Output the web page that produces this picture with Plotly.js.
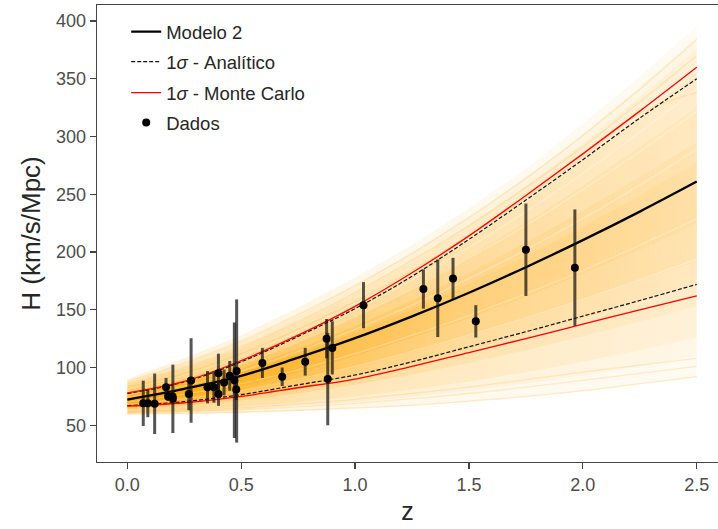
<!DOCTYPE html>
<html>
<head>
<meta charset="utf-8">
<script src="https://cdn.plot.ly/plotly-3.0.1.min.js"></script>
<style>html,body{margin:0;padding:0;background:#fff;}#chart{width:718px;height:529px;}</style>
</head>
<body>
<div id="chart"></div>
<script>
// ---- Observational data (cosmic chronometers) ----
const zData = [0.07, 0.09, 0.12, 0.17, 0.179, 0.199, 0.2, 0.27, 0.28, 0.352, 0.3802, 0.4, 0.4004, 0.4247, 0.4497, 0.47, 0.4783, 0.48, 0.593, 0.68, 0.781, 0.875, 0.88, 0.9, 1.037, 1.3, 1.363, 1.43, 1.53, 1.75, 1.965];
const hData = [69, 69, 68.6, 83, 75, 75, 72.9, 77, 88.8, 83, 83, 95, 77, 87.1, 92.8, 89, 80.9, 97, 104, 92, 105, 125, 90, 117, 154, 168, 160, 177, 140, 202, 186.5];
const hErr  = [19.6, 12, 26.2, 8, 4, 5, 29.6, 14, 36.6, 14, 13.5, 17, 10.2, 11.2, 12.9, 50, 9, 62, 13, 8, 12, 17, 40, 23, 20, 17, 33.6, 18, 14, 40, 50.4];

// ---- Model curves (read at a z grid) ----
const zGrid   = [0, 0.25, 0.5, 0.75, 1.0, 1.25, 1.5, 1.75, 2.0, 2.25, 2.5];
const hModel  = [72.3, 81.6, 92.8, 108.5, 125.4, 144.3, 164.8, 186.9, 210.3, 235, 261];
const hAnaUp  = [77.5, 87.5, 105, 127, 151, 179, 211, 245, 280, 316, 350];
const hAnaLo  = [67, 70.5, 76.5, 85, 93.5, 105, 118, 131, 144.5, 158, 172];
const hMcUp   = [78, 88, 106, 128, 153, 182, 214, 249, 285, 322, 360];
const hMcLo   = [66.5, 69.5, 75, 82.5, 90, 101, 113, 125, 137.5, 150, 162];

// ---- Monte Carlo sample envelope (nested density levels, outer to inner) ----
const lvl1Hi = [90, 108, 128, 152, 178, 206, 238, 272, 311, 352, 396];
const lvl1Lo = [59, 59.5, 60.5, 62, 64, 66.5, 70, 74, 79, 85, 92];
const lvl2Hi = [87.5, 103, 122, 145, 171, 199, 230, 264, 302, 343, 386];
const lvl2Lo = [60.5, 61.5, 63.5, 66.5, 70, 74.5, 80, 86, 93, 101, 110];
const lvl3Hi = [85, 99, 117, 139, 164, 192, 223, 257, 294, 334, 376];
const lvl3Lo = [61.5, 63, 66, 70, 75, 81, 88, 96, 105, 115, 126];
const lvl4Hi = [80.5, 92, 108, 129, 153, 180, 210, 243, 279, 317, 356];
const lvl4Lo = [64, 67, 71.5, 77.5, 85, 94, 104, 115, 127, 140, 153];
const lvl5Hi = [79, 89, 103.5, 122.5, 144.5, 169, 196, 225.5, 257.5, 291, 325];
const lvl5Lo = [65, 69, 75, 83, 92.5, 103.5, 115.5, 128.5, 142.5, 157.5, 172.5];
const lvl6Hi = [77, 86, 99, 116, 136, 158, 182, 208, 236, 265, 295];
const lvl6Lo = [66.5, 71, 79, 89, 100, 113, 127, 142, 158, 175, 192];
const lvl7Hi = [75, 83.5, 95.5, 111.5, 130, 150.5, 172.5, 196.5, 222, 249, 278];
const lvl7Lo = [69, 75, 84, 96, 110, 125.5, 142.5, 161, 181, 202, 224];

// ---- Some individual Monte Carlo sample curves ----
const mcSamples = [
  [60, 60.5, 61.5, 63, 65, 67.5, 71, 75, 80, 86, 92],
  [61, 62, 63.5, 66, 69, 73, 77.5, 83, 89, 95, 101],
  [61.5, 63, 65, 68.5, 72.5, 77.5, 83, 89.5, 96, 102, 108],
  [88, 104, 123, 146, 171, 199, 230, 264, 301, 341, 384],
  [86, 100, 118, 140, 165, 193, 223, 256, 291, 330, 370],
  [83, 95, 112, 133, 157, 184, 214, 247, 282, 320, 338]
];
const mcStreaks = [
  [74, 84, 97, 114, 133, 154, 177, 202, 229, 258, 289],
  [70, 77, 86, 98, 112, 128, 145, 164, 184, 206, 229],
  [76, 88, 103, 122, 144, 168, 195, 223, 254, 287, 322],
  [68, 73, 80, 90, 101, 114, 128, 143, 159, 176, 194],
  [79, 91, 107, 127, 150, 176, 204, 235, 268, 304, 341]
];

const ORANGE = '255,165,0';
const gradPos = [0, 0.1, 0.2, 0.4, 0.6, 1];
function grad(alphas) {
  return {type: 'horizontal', start: 0, stop: 2.5,
          colorscale: gradPos.map((p, i) => [p, 'rgba(' + ORANGE + ',' + alphas[i] + ')'])};
}
function band(hi, lo, alphas) {
  return {
    x: zGrid.concat(zGrid.slice().reverse()),
    y: hi.concat(lo.slice().reverse()),
    type: 'scatter', mode: 'lines', fill: 'toself',
    line: {width: 0}, fillcolor: 'rgba(' + ORANGE + ',' + alphas[3] + ')',
    fillgradient: grad(alphas),
    hoverinfo: 'skip', showlegend: false
  };
}

const traces = [];
traces.push(band(lvl1Hi, lvl1Lo, [0.14, 0.13, 0.11, 0.09, 0.07, 0.05]));
traces.push(band(lvl2Hi, lvl2Lo, [0.16, 0.15, 0.13, 0.10, 0.08, 0.05]));
traces.push(band(lvl3Hi, lvl3Lo, [0.20, 0.19, 0.16, 0.12, 0.10, 0.06]));
traces.push(band(lvl4Hi, lvl4Lo, [0.25, 0.24, 0.20, 0.15, 0.11, 0.06]));
traces.push(band(lvl5Hi, lvl5Lo, [0.35, 0.33, 0.27, 0.18, 0.11, 0.06]));
traces.push(band(lvl6Hi, lvl6Lo, [0.45, 0.42, 0.33, 0.20, 0.12, 0.07]));
traces.push(band(lvl7Hi, lvl7Lo, [0.50, 0.47, 0.36, 0.20, 0.11, 0.06]));
mcSamples.forEach(s => traces.push({x: zGrid, y: s, type: 'scatter', mode: 'lines',
  line: {color: 'rgba(' + ORANGE + ',0.18)', width: 1.3, shape: 'spline'}, hoverinfo: 'skip', showlegend: false}));
mcStreaks.forEach(s => traces.push({x: zGrid, y: s, type: 'scatter', mode: 'lines',
  line: {color: 'rgba(255,255,255,0.28)', width: 1.4, shape: 'spline'}, hoverinfo: 'skip', showlegend: false}));

// analytic 1 sigma (dashed)
traces.push({x: zGrid, y: hAnaUp, type: 'scatter', mode: 'lines', name: '1<i>σ</i> - Analítico',
  line: {color: '#111', width: 1.2, dash: '4px,2px', shape: 'spline'}, legend: 'legend2', hoverinfo: 'skip'});
traces.push({x: zGrid, y: hAnaLo, type: 'scatter', mode: 'lines', showlegend: false,
  line: {color: '#111', width: 1.2, dash: '4px,2px', shape: 'spline'}, hoverinfo: 'skip'});
// Monte Carlo 1 sigma (red)
traces.push({x: zGrid, y: hMcUp, type: 'scatter', mode: 'lines', name: '1<i>σ</i> - Monte Carlo',
  line: {color: '#ff0000', width: 1.3, shape: 'spline'}, legend: 'legend3', hoverinfo: 'skip'});
traces.push({x: zGrid, y: hMcLo, type: 'scatter', mode: 'lines', showlegend: false,
  line: {color: '#ff0000', width: 1.3, shape: 'spline'}, hoverinfo: 'skip'});
// model
traces.push({x: zGrid, y: hModel, type: 'scatter', mode: 'lines', name: 'Modelo 2',
  line: {color: '#000', width: 2.3, shape: 'spline'}, legend: 'legend', hoverinfo: 'skip'});
// data
traces.push({x: zData, y: hData, type: 'scatter', mode: 'markers', name: 'Dados',
  marker: {color: '#000', size: 8},
  error_y: {type: 'data', array: hErr, visible: true, color: 'rgba(20,20,20,0.72)', thickness: 3, width: 0},
  legend: 'legend4', hoverinfo: 'skip'});

function leg(ypx) {
  return {x: 0.047, xanchor: 'left', y: (462 - ypx) / 457, yanchor: 'middle',
          bgcolor: 'rgba(0,0,0,0)', borderwidth: 0,
          font: {size: 18.5, color: '#262626', family: 'Liberation Sans, Arial, sans-serif'}};
}

const axisCommon = {
  showline: true, linecolor: '#444', linewidth: 1.25,
  ticks: 'outside', ticklen: 6, tickwidth: 1.25, tickcolor: '#444',
  showgrid: false, zeroline: false,
  tickfont: {size: 18, color: '#4d4d4d', family: 'Liberation Sans, Arial, sans-serif'}
};

const layout = {
  width: 718, height: 529,
  margin: {l: 97, r: 0, t: 5, b: 67, pad: 0},
  paper_bgcolor: '#fff', plot_bgcolor: '#fff',
  font: {family: 'Liberation Sans, Arial, sans-serif', color: '#262626'},
  xaxis: Object.assign({}, axisCommon, {
    range: [-0.1331, 2.5934], mirror: true,
    tickvals: [0, 0.5, 1, 1.5, 2, 2.5], ticktext: ['0.0', '0.5', '1.0', '1.5', '2.0', '2.5'],
    title: {text: 'z', font: {size: 25, color: '#262626'}, standoff: 8}
  }),
  yaxis: Object.assign({}, axisCommon, {
    range: [18.2, 413.9], mirror: false,
    tickvals: [50, 100, 150, 200, 250, 300, 350, 400],
    title: {text: 'H (km/s/Mpc)', font: {size: 26, color: '#262626'}, standoff: 8}
  }),
  legend: leg(32), legend2: leg(62), legend3: leg(93), legend4: leg(123),
  showlegend: true
};

Plotly.newPlot('chart', traces, layout, {displayModeBar: false, staticPlot: true});
</script>
</body>
</html>
